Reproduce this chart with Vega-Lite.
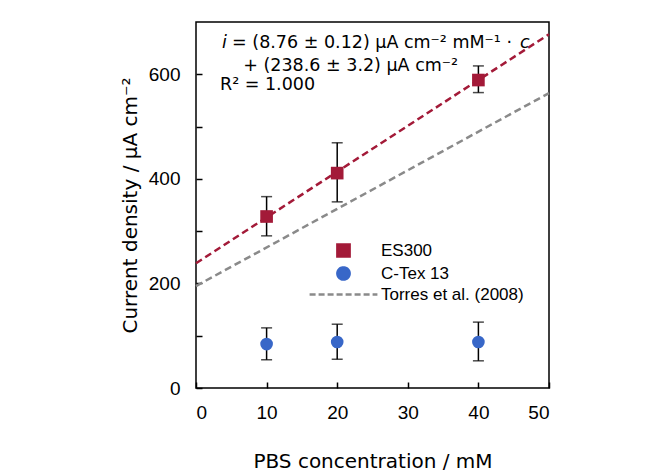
{
  "$schema": "https://vega.github.io/schema/vega-lite/v6.json",
  "autosize": {"type": "none"},
  "padding": {"left": 196, "top": 22, "right": 105, "bottom": 84},
  "width": 353,
  "height": 366,
  "background": "white",
  "config": {
    "font": "Liberation Sans",
    "view": {"stroke": "black", "strokeWidth": 1.5},
    "axis": {
      "grid": false,
      "domain": false,
      "tickColor": "black",
      "tickWidth": 1.5,
      "tickSize": -6,
      "labelColor": "black",
      "labelFontSize": 19,
      "titleColor": "black",
      "titleFont": "DejaVu Sans",
      "titleFontSize": 20,
      "titleFontWeight": "normal"
    }
  },
  "datasets": {
    "meas": [
      {"series": "ES300", "x": 10, "y": 328, "lo": 291, "hi": 366},
      {"series": "ES300", "x": 20, "y": 411, "lo": 356, "hi": 469},
      {"series": "ES300", "x": 40, "y": 589, "lo": 565, "hi": 616},
      {"series": "C-Tex 13", "x": 10, "y": 84, "lo": 54, "hi": 115},
      {"series": "C-Tex 13", "x": 20, "y": 88, "lo": 55, "hi": 122},
      {"series": "C-Tex 13", "x": 40, "y": 88, "lo": 52, "hi": 126}
    ],
    "fit": [
      {"series": "ES300", "x": 0, "y": 238.6},
      {"series": "ES300", "x": 50, "y": 676.6}
    ],
    "torres": [
      {"series": "Torres et al. (2008)", "x": 0, "y": 195},
      {"series": "Torres et al. (2008)", "x": 50, "y": 564}
    ],
    "one": [{}]
  },
  "layer": [
    {
      "data": {"name": "torres"},
      "mark": {"type": "line", "strokeDash": [7, 4], "strokeWidth": 2.5},
      "encoding": {
        "x": {"field": "x", "type": "quantitative", "scale": {"domain": [0, 50], "nice": false},
              "axis": {"values": [0, 10, 20, 30, 40, 50], "labelPadding": 21, "title": "PBS concentration / mM", "titlePadding": 29}},
        "y": {"field": "y", "type": "quantitative", "scale": {"domain": [0, 700], "nice": false},
              "axis": {"values": [0, 100, 200, 300, 400, 500, 600], "labelExpr": "datum.value % 200 === 0 ? datum.label : ''", "labelPadding": 22, "title": "Current density / µA cm⁻²", "titlePadding": 8}},
        "color": {"field": "series", "type": "nominal",
                  "scale": {"domain": ["ES300", "C-Tex 13", "Torres et al. (2008)"], "range": ["#a31a38", "#3867c8", "#8a8a8a"]},
                  "legend": {"title": null, "orient": "none", "legendX": 139, "legendY": 220, "labelFontSize": 17, "labelColor": "black", "labelOffset": 29, "rowPadding": 0, "symbolSize": 150,
                    "encode": {"symbols": {"update": {
                      "stroke": {"signal": "datum.value === 'Torres et al. (2008)' ? '#8a8a8a' : 'transparent'"},
                      "strokeWidth": {"value": 2.5},
                      "strokeDash": {"signal": "datum.value === 'Torres et al. (2008)' ? [6, 3] : [1, 0]"},
                      "size": {"signal": "datum.value === 'Torres et al. (2008)' ? 4600 : 150"}
                    }}}}}
      }
    },
    {
      "data": {"name": "fit"},
      "mark": {"type": "line", "strokeDash": [7, 4], "strokeWidth": 2.5},
      "encoding": {
        "x": {"field": "x", "type": "quantitative"},
        "y": {"field": "y", "type": "quantitative"},
        "color": {"field": "series", "type": "nominal"}
      }
    },
    {
      "data": {"name": "meas"},
      "mark": {"type": "rule", "color": "black", "strokeWidth": 1.5},
      "encoding": {
        "x": {"field": "x", "type": "quantitative"},
        "y": {"field": "lo", "type": "quantitative"},
        "y2": {"field": "hi"}
      }
    },
    {
      "data": {"name": "meas"},
      "mark": {"type": "tick", "orient": "horizontal", "color": "black", "size": 11, "thickness": 1.5},
      "encoding": {
        "x": {"field": "x", "type": "quantitative"},
        "y": {"field": "lo", "type": "quantitative"}
      }
    },
    {
      "data": {"name": "meas"},
      "mark": {"type": "tick", "orient": "horizontal", "color": "black", "size": 11, "thickness": 1.5},
      "encoding": {
        "x": {"field": "x", "type": "quantitative"},
        "y": {"field": "hi", "type": "quantitative"}
      }
    },
    {
      "data": {"name": "meas"},
      "mark": {"type": "point", "filled": true, "opacity": 1, "size": 160},
      "encoding": {
        "x": {"field": "x", "type": "quantitative"},
        "y": {"field": "y", "type": "quantitative"},
        "color": {"field": "series", "type": "nominal"},
        "shape": {"field": "series", "type": "nominal",
                  "scale": {"domain": ["ES300", "C-Tex 13", "Torres et al. (2008)"], "range": ["square", "circle", "stroke"]},
                  "legend": {"title": null, "orient": "none", "legendX": 139, "legendY": 220, "labelFontSize": 17, "labelColor": "black", "labelOffset": 29, "rowPadding": 0, "symbolSize": 150,
                    "encode": {"symbols": {"update": {
                      "stroke": {"signal": "datum.value === 'Torres et al. (2008)' ? '#8a8a8a' : 'transparent'"},
                      "strokeWidth": {"value": 2.5},
                      "strokeDash": {"signal": "datum.value === 'Torres et al. (2008)' ? [6, 3] : [1, 0]"},
                      "size": {"signal": "datum.value === 'Torres et al. (2008)' ? 4600 : 150"}
                    }}}}}
      }
    },
    {
      "data": {"name": "one"},
      "mark": {"type": "text", "text": "i", "font": "DejaVu Sans", "fontStyle": "italic", "fontSize": 17.5, "align": "left", "baseline": "alphabetic", "color": "black"},
      "encoding": {"x": {"datum": 3.7}, "y": {"datum": 650}}
    },
    {
      "data": {"name": "one"},
      "mark": {"type": "text", "text": "= (8.76 ± 0.12) µA cm⁻² mM⁻¹ ·", "font": "DejaVu Sans", "fontSize": 17.5, "align": "left", "baseline": "alphabetic", "color": "black", "dx": 10},
      "encoding": {"x": {"datum": 3.7}, "y": {"datum": 650}}
    },
    {
      "data": {"name": "one"},
      "mark": {"type": "text", "text": "c", "font": "DejaVu Sans", "fontStyle": "italic", "fontSize": 17.5, "align": "left", "baseline": "alphabetic", "color": "black"},
      "encoding": {"x": {"datum": 45.9}, "y": {"datum": 650}}
    },
    {
      "data": {"name": "one"},
      "mark": {"type": "text", "text": "+ (238.6 ± 3.2) µA cm⁻²", "font": "DejaVu Sans", "fontSize": 17.5, "align": "left", "baseline": "alphabetic", "color": "black"},
      "encoding": {"x": {"datum": 6.7}, "y": {"datum": 606}}
    },
    {
      "data": {"name": "one"},
      "mark": {"type": "text", "text": "R² = 1.000", "font": "DejaVu Sans", "fontSize": 17.5, "align": "left", "baseline": "alphabetic", "color": "black"},
      "encoding": {"x": {"datum": 3.4}, "y": {"datum": 570}}
    }
  ]
}
